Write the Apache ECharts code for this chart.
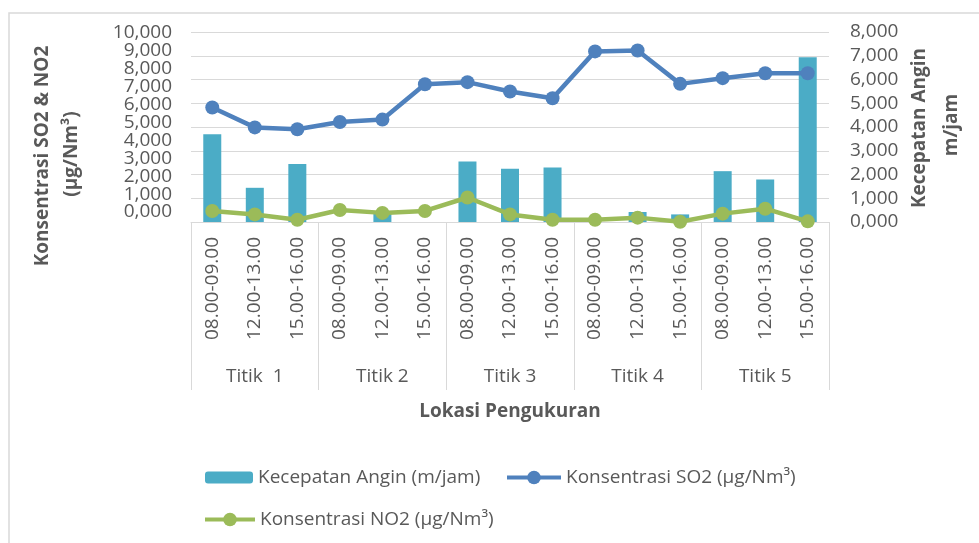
<!DOCTYPE html>
<html>
<head>
<meta charset="utf-8">
<title>Kecepatan Angin, SO2 dan NO2</title>
<script src="https://cdn.jsdelivr.net/npm/echarts@6/dist/echarts.min.js"></script>
<style>
  html, body { margin: 0; padding: 0; background: #fff; }
  #chart { width: 979px; height: 543px; }
</style>
</head>
<body>
<div id="chart"></div>
<script>
// jam pengukuran per titik
const jam = ['08.00-09.00', '12.00-13.00', '15.00-16.00'];
const titik = ['Titik  1', 'Titik 2', 'Titik 3', 'Titik 4', 'Titik 5'];
const kategori = titik.flatMap(() => jam);

// nilai
const kecepatanAngin = [3700, 1440, 2440, 0, 350, 0, 2550, 2240, 2300, 0, 420, 320, 2140, 1790, 6940];
const konsentrasiSO2 = [6030, 4980, 4880, 5260, 5390, 7250, 7360, 6870, 6510, 8980, 9030, 7270, 7570, 7830, 7830];
const konsentrasiNO2 = [580, 400, 120, 630, 480, 580, 1290, 400, 120, 120, 230, 10, 440, 700, 35];

const namaAngin = 'Kecepatan Angin (m/jam)';
const namaSO2 = 'Konsentrasi SO2 (µg/Nm³)';
const namaNO2 = 'Konsentrasi NO2 (µg/Nm³)';

const abu = '#595959';
const garis = '#d9d9d9';
const font = 'Open Sans';

// label sumbu kiri lebih rapat dari garis grid (seperti di gambar asli)
const labelAtas = 33;
const labelBawah = 212;
const langkahLabel = (labelBawah - labelAtas) / 10;

function formatAngka(v) {
  if (v === 0) return '0,000';
  return v.toLocaleString('en-US');
}

function judul(text, x, y, rotasi) {
  return {
    type: 'text', x: x, y: y, rotation: rotasi ? Math.PI / 2 : 0,
    style: { text: text, fill: abu, font: 'bold 19px "Open Sans"', align: 'center', verticalAlign: 'middle' }
  };
}

function sumbuLabel(gridIndex, min, max) {
  return {
    type: 'value',
    gridIndex: gridIndex,
    min: min, max: max, interval: 2000,
    axisLine: { show: false },
    axisTick: { show: false },
    axisLabel: { margin: 19, color: abu, fontSize: 19, formatter: formatAngka },
    splitLine: { show: false }
  };
}

const legendText = { color: abu, fontSize: 19, fontFamily: font };

const chart = echarts.init(document.getElementById('chart'));

const option = {
  animation: false,
  textStyle: { fontFamily: font },
  grid: [
    { left: 191, right: 150, top: 32, bottom: 321 },
    { left: 191, right: 150, top: labelAtas, bottom: 543 - labelBawah },
    { left: 191, right: 150, top: labelAtas + langkahLabel, bottom: 543 - labelBawah + langkahLabel }
  ],
  graphic: [
    {
      type: 'rect',
      shape: { x: 9, y: 13, width: 990, height: 560 },
      style: { fill: 'none', stroke: garis, lineWidth: 1.5 },
      silent: true
    },
    judul('Konsentrasi SO2 & NO2', 43, 156, true),
    judul('(µg/Nm³)', 72, 154, true),
    judul('Kecepatan Angin', 920, 128, true),
    judul('m/jam', 952, 125, true),
    judul('Lokasi Pengukuran', 510, 412, false)
  ],
  legend: [
    {
      data: [namaAngin],
      left: 200, top: 463,
      itemWidth: 48, itemHeight: 12,
      textStyle: legendText
    },
    {
      data: [namaSO2],
      left: 500, top: 463,
      itemWidth: 54, itemHeight: 17,
      lineStyle: { width: 4 },
      textStyle: legendText
    },
    {
      data: [namaNO2],
      left: 198, top: 505,
      itemWidth: 50, itemHeight: 17,
      lineStyle: { width: 4 },
      textStyle: legendText
    }
  ],
  xAxis: [
    {
      type: 'category',
      gridIndex: 0,
      data: kategori,
      axisLine: { lineStyle: { color: garis } },
      axisTick: { show: false },
      splitLine: { show: false },
      axisLabel: { rotate: 90, interval: 0, margin: 15, color: abu, fontSize: 19 }
    },
    {
      type: 'category',
      gridIndex: 0,
      position: 'bottom',
      offset: 168,
      data: titik,
      axisLine: { show: false },
      axisTick: { show: true, inside: false, length: 168, lineStyle: { color: garis } },
      splitLine: { show: false },
      axisLabel: { inside: true, margin: 4, color: abu, fontSize: 19 }
    },
    { type: 'category', gridIndex: 1, data: kategori, show: false },
    { type: 'category', gridIndex: 2, data: kategori, show: false }
  ],
  yAxis: [
    {
      type: 'value',
      gridIndex: 0,
      min: 0, max: 10000, interval: 1000,
      axisLine: { show: false },
      axisTick: { show: false },
      axisLabel: { show: false },
      splitLine: { show: false }
    },
    {
      type: 'value',
      gridIndex: 0,
      position: 'right',
      min: 0, max: 8000, interval: 1000,
      axisLine: { show: false },
      axisTick: { show: false },
      axisLabel: { margin: 21, color: abu, fontSize: 19, formatter: formatAngka },
      splitLine: { lineStyle: { color: garis } }
    },
    // label kiri: ribuan genap dan ganjil di dua sumbu agar tidak disembunyikan
    sumbuLabel(1, 0, 10000),
    sumbuLabel(2, 1000, 9000)
  ],
  series: [
    {
      name: namaAngin,
      type: 'bar',
      xAxisIndex: 0,
      yAxisIndex: 1,
      data: kecepatanAngin,
      barWidth: 18,
      itemStyle: { color: '#4bacc6' }
    },
    {
      name: namaSO2,
      type: 'line',
      xAxisIndex: 0,
      yAxisIndex: 0,
      data: konsentrasiSO2,
      symbol: 'circle',
      symbolSize: 14,
      lineStyle: { width: 4.5, color: '#4f81bd' },
      itemStyle: { color: '#4f81bd' }
    },
    {
      name: namaNO2,
      type: 'line',
      xAxisIndex: 0,
      yAxisIndex: 0,
      data: konsentrasiNO2,
      symbol: 'circle',
      symbolSize: 14,
      lineStyle: { width: 4.5, color: '#9bbb59' },
      itemStyle: { color: '#9bbb59' }
    }
  ]
};

chart.setOption(option);
</script>
</body>
</html>
